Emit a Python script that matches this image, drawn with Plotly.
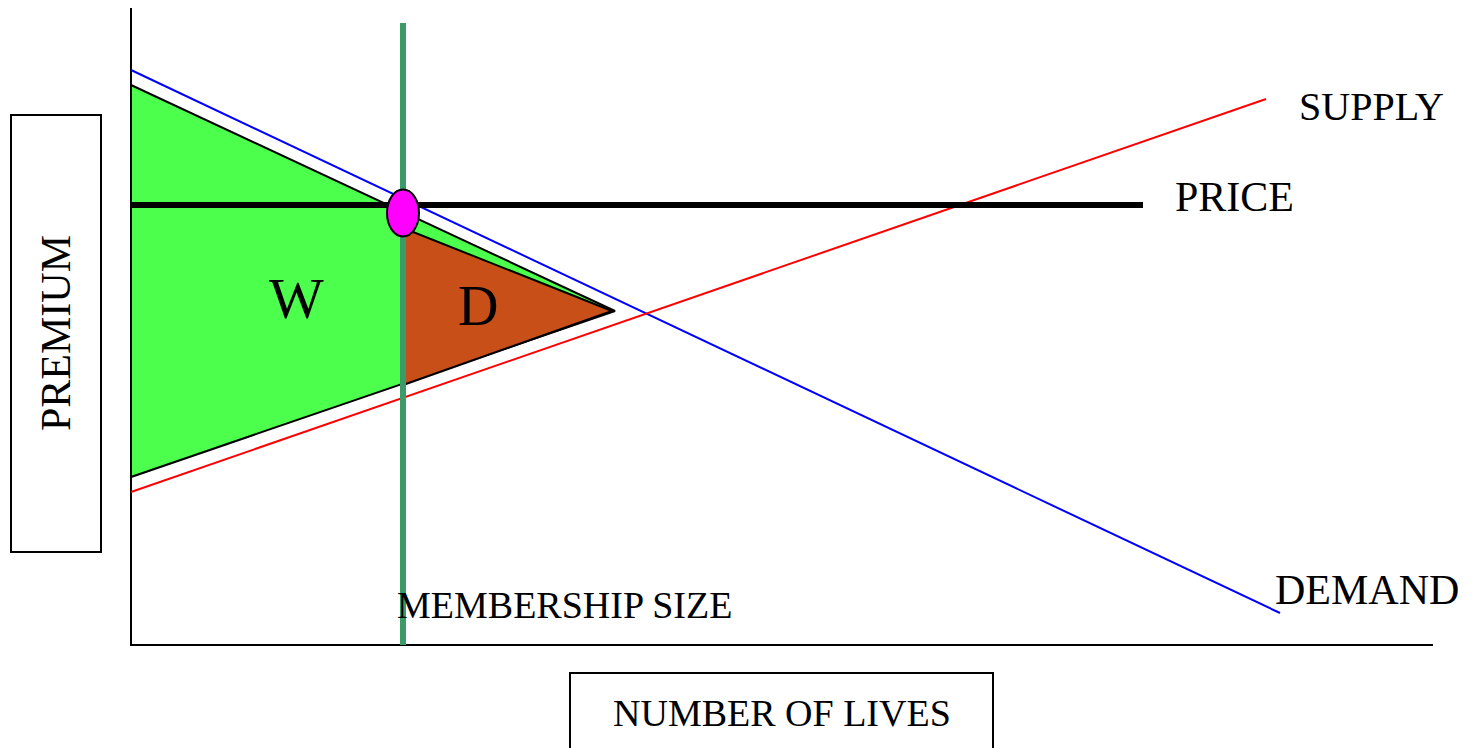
import plotly.graph_objects as go

# ---- data (diagram units: origin at axis corner) ----
demand_x = [0, 1149]
demand_y = [575, 32]
supply_x = [0, 1135]
supply_y = [153, 546]
price_x = [0, 1012]
price_y = [440, 440]
membership_x = [272, 272]
membership_y = [0, 622]
welfare_x = [0, 484, 0, 0]
welfare_y = [560, 334, 168, 560]
deadweight_x = [272, 481, 272, 272]
deadweight_y = [417, 334, 260, 417]
axis_x = [0, 0, 1302]
axis_y = [637, 0, 0]
equilibrium_y = 432

label_supply = "SUPPLY"
label_price = "PRICE"
label_demand = "DEMAND"
label_member = "MEMBERSHIP SIZE"
label_xtitle = "NUMBER OF LIVES"
label_ytitle = "PREMIUM"

FONT = "Liberation Serif"

fig = go.Figure()

# axes
fig.add_trace(go.Scatter(x=axis_x, y=axis_y, mode="lines",
                         line=dict(color="black", width=2), hoverinfo="skip"))
# welfare triangle
fig.add_trace(go.Scatter(x=welfare_x, y=welfare_y, mode="lines", fill="toself",
                         fillcolor="#4cff4c", line=dict(color="black", width=2)))
# deadweight triangle
fig.add_trace(go.Scatter(x=deadweight_x, y=deadweight_y, mode="lines", fill="toself",
                         fillcolor="#c85018", line=dict(color="black", width=2)))
# demand
fig.add_trace(go.Scatter(x=demand_x, y=demand_y, mode="lines",
                         line=dict(color="#0000ff", width=2)))
# supply
fig.add_trace(go.Scatter(x=supply_x, y=supply_y, mode="lines",
                         line=dict(color="#ff0000", width=2)))
# price
fig.add_trace(go.Scatter(x=price_x, y=price_y, mode="lines",
                         line=dict(color="black", width=6)))
# membership size
fig.add_trace(go.Scatter(x=membership_x, y=membership_y, mode="lines",
                         line=dict(color="#3a9b68", width=6)))

# equilibrium ellipse at membership size
cx = membership_x[0]
cy = equilibrium_y
fig.add_shape(type="circle", xref="x", yref="y",
              x0=cx - 16, x1=cx + 16, y0=cy - 23.5, y1=cy + 23.5,
              fillcolor="#ff00ff", line=dict(color="black", width=2), layer="above")

# boxes for axis titles
fig.add_shape(type="rect", xref="x", yref="y", x0=-120, x1=-30, y0=93, y1=530,
              line=dict(color="black", width=2))
fig.add_shape(type="rect", xref="x", yref="y", x0=439, x1=862, y0=-120, y1=-28,
              line=dict(color="black", width=2))

def ann(text, x, y, size, xanchor="left", angle=0):
    fig.add_annotation(text=text, x=x, y=y, xref="x", yref="y", showarrow=False,
                       xanchor=xanchor, yanchor="middle", textangle=angle,
                       font=dict(family=FONT, size=size, color="black"))

ann(label_supply, 1166, 539, 40)
ann(label_price, 1042, 448, 42)
ann(label_demand, 1142, 55, 42)
ann(label_member, 264, 40, 38)
ann(label_xtitle, 651, -68, 38, xanchor="center")
ann(label_ytitle, -75, 312, 42, xanchor="center", angle=-90)
ann("W", 165, 347, 58, xanchor="center")
ann("D", 347, 339, 56, xanchor="center")

# page body has an 8px margin: size the figure and ranges to compensate
fig.update_layout(
    width=1465, height=740,
    margin=dict(l=0, r=0, t=0, b=0),
    paper_bgcolor="white", plot_bgcolor="white",
    showlegend=False,
    xaxis=dict(range=[-123, 1342], visible=False, fixedrange=True),
    yaxis=dict(range=[-103, 637], visible=False, fixedrange=True),
)

fig.write_html("out.html")
